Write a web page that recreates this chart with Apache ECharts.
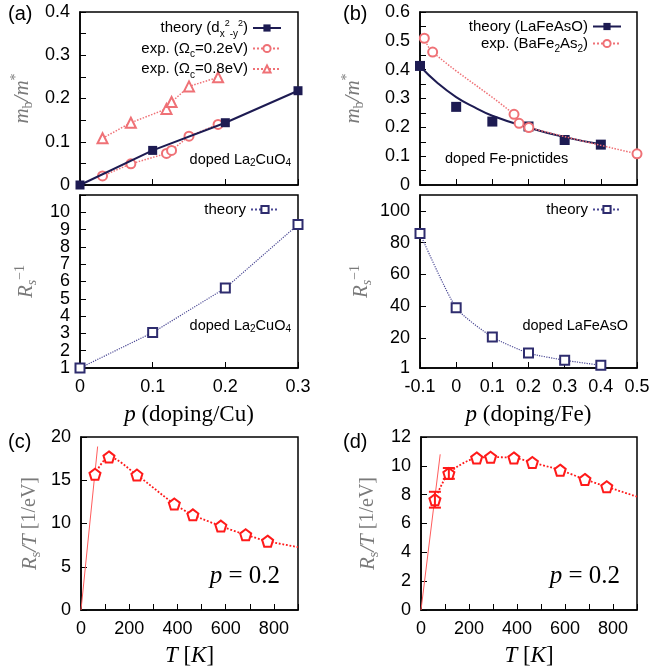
<!DOCTYPE html>
<html>
<head>
<meta charset="utf-8">
<script src="https://cdn.jsdelivr.net/npm/echarts@6/dist/echarts.min.js"></script>
<style>
  html, body { margin: 0; padding: 0; background: #fff; }
  #chart { width: 653px; height: 669px; }
</style>
</head>
<body>
<div id="chart"></div>
<script>
// (a) doped La2CuO4
const pA = [0, 0.1, 0.2, 0.3];
const mTheoryA = [0, 0.08, 0.144, 0.218];
const pExpA = [0.031, 0.070, 0.119, 0.126, 0.150, 0.190];
const mExpA02 = [0.021, 0.049, 0.073, 0.080, 0.113, 0.140];
const mExpA08 = [0.108, 0.144, 0.176, 0.192, 0.228, 0.249];
const rsInvA = [1.0, 3.05, 5.62, 9.29];

// (b) doped Fe-pnictides
const pB = [-0.1, 0, 0.1, 0.2, 0.3, 0.4];
const mTheoryB = [0.413, 0.271, 0.22, 0.203, 0.156, 0.14];
const pFitB = [-0.1, -0.05, 0, 0.05, 0.1, 0.2, 0.3, 0.4];
const mFitB = [0.412, 0.352, 0.305, 0.27, 0.24, 0.199, 0.166, 0.141];
const pExpB = [-0.088, -0.065, 0.16, 0.174, 0.201, 0.5];
const mExpB = [0.509, 0.461, 0.245, 0.214, 0.199, 0.108];
const rsInvB = [85.8, 38.9, 20.5, 10.4, 5.9, 2.7];
const rsTicksB = [1, 20, 40, 60, 80, 100];

// (c), (d) Rs/T vs T at p = 0.2
const tempC = [58, 116, 232, 387, 464, 580, 683, 774];
const rsTC = [15.7, 17.7, 15.6, 12.25, 11.0, 9.7, 8.7, 7.96];
const tailC = [900, 7.27];
const slopeC = [[0, 0], [69, 18.9]];
const tempD = [58, 116, 232, 290, 387, 464, 580, 683, 774];
const rsTD = [7.65, 9.47, 10.55, 10.6, 10.55, 10.23, 9.7, 9.06, 8.55];
const tailD = [900, 7.86];
const slopeD = [[0, 0], [80, 10.8]];
const errD = [[58, 7.1, 8.2], [116, 9.1, 9.85]];

const navy = '#1d1b52';
const navy2 = '#2e2c6e';
const pink = '#ef7176';
const red = '#ff1a1a';
const sans = 'Liberation Sans';
const serif = 'Liberation Serif';

const zip = (xs, ys) => xs.map((x, i) => [x, ys[i]]);

const subRich = {
  n: { fontSize: 15, fontFamily: sans, color: '#000', lineHeight: 18 },
  sb: { fontSize: 10, fontFamily: sans, color: '#000', lineHeight: 18, verticalAlign: 'bottom', padding: [0, 0, -2, 0] },
  sp: { fontSize: 9, fontFamily: sans, color: '#000', lineHeight: 18, verticalAlign: 'top' }
};
const legendText = {
  theoryA: '{n|theory (d}{sb|x}{sp|2}{sb|-y}{sp|2}{n|)}',
  expA02: '{n|exp. (Ω}{sb|c}{n|=0.2eV)}',
  expA08: '{n|exp. (Ω}{sb|c}{n|=0.8eV)}',
  theoryB: '{n|theory (LaFeAsO)}',
  expB: '{n|exp. (BaFe}{sb|2}{n|As}{sb|2}{n|)}',
  rsA: '{n|theory}',
  rsB: '{n|theory}'
};

function legend(names, right, top, extra) {
  return {
    data: names.map(n => (extra && extra[n]) ? Object.assign({ name: n }, extra[n]) : n),
    orient: 'vertical', right: right, top: top, align: 'right',
    itemWidth: 28, itemHeight: 9, itemGap: 2,
    selectedMode: false,
    formatter: n => legendText[n],
    textStyle: { fontFamily: sans, fontSize: 15, color: '#000', rich: subRich }
  };
}

const gray = '#7a7a7a';
const nameRich = {
  i: { fontFamily: serif, fontStyle: 'italic', fontSize: 21, color: gray, lineHeight: 26 },
  r: { fontFamily: serif, fontSize: 20, color: gray, lineHeight: 26 },
  s: { fontFamily: serif, fontSize: 14, color: gray, lineHeight: 26, verticalAlign: 'bottom' },
  si: { fontFamily: serif, fontStyle: 'italic', fontSize: 14, color: gray, lineHeight: 26, verticalAlign: 'bottom' },
  u: { fontFamily: serif, fontSize: 14, color: gray, lineHeight: 26, verticalAlign: 'top' }
};
const xNameRich = {
  i: { fontFamily: serif, fontStyle: 'italic', fontSize: 23, color: '#000' },
  r: { fontFamily: serif, fontSize: 23, color: '#000' }
};

function axisBase(grid, min, max, interval, showLabel) {
  return {
    type: 'value', gridIndex: grid, min: min, max: max, interval: interval,
    axisLine: { show: true, onZero: false, lineStyle: { color: '#000', width: 1.5 } },
    axisTick: { show: true, inside: true, length: 6, lineStyle: { color: '#000', width: 1 } },
    axisLabel: { show: showLabel, color: '#000', fontFamily: sans, fontSize: 18, margin: 10 },
    splitLine: { show: false }
  };
}

const xAxes = [
  axisBase(0, 0, 0.3, 0.1, false),
  Object.assign(axisBase(1, 0, 0.3, 0.1, true), {
    name: '{i|p}{r| (doping/Cu)}', nameLocation: 'middle', nameGap: 35,
    nameTextStyle: { rich: xNameRich }
  }),
  axisBase(2, -0.1, 0.5, 0.1, false),
  Object.assign(axisBase(3, -0.1, 0.5, 0.1, true), {
    name: '{i|p}{r| (doping/Fe)}', nameLocation: 'middle', nameGap: 35,
    nameTextStyle: { rich: xNameRich }
  }),
  Object.assign(axisBase(4, 0, 900, 100, true), {
    name: '{i|T}{r| [}{i|K}{r|]}', nameLocation: 'middle', nameGap: 34,
    nameTextStyle: { rich: xNameRich }
  }),
  Object.assign(axisBase(5, 0, 900, 100, true), {
    name: '{i|T}{r| [}{i|K}{r|]}', nameLocation: 'middle', nameGap: 34,
    nameTextStyle: { rich: xNameRich }
  })
];
xAxes[4].axisLabel.formatter = v => (v % 200 === 0 && v < 900) ? String(v) : '';
xAxes[5].axisLabel.formatter = v => (v % 200 === 0 && v < 900) ? String(v) : '';

const yAxes = [
  Object.assign(axisBase(0, 0, 0.4, 0.1, true), {
    minorTick: { show: true, splitNumber: 2, length: 6, lineStyle: { color: '#000' } },
    name: '{i|m}{s|b}{i|/m}{u|*}', nameLocation: 'middle', nameGap: 45,
    nameTextStyle: { rich: nameRich }
  }),
  Object.assign(axisBase(1, 1, 11, 1, true), {
    position: 'left',
    name: '{i|R}{si|s}{u|−1}', nameLocation: 'middle', nameGap: 41,
    nameTextStyle: { rich: nameRich }
  }),
  Object.assign(axisBase(2, 0, 0.6, 0.1, true), {
    minorTick: { show: true, splitNumber: 2, length: 6, lineStyle: { color: '#000' } },
    name: '{i|m}{s|b}{i|/m}{u|*}', nameLocation: 'middle', nameGap: 54,
    nameTextStyle: { rich: nameRich }
  }),
  Object.assign(axisBase(3, 1, 110, null, true), {
    name: '{i|R}{si|s}{u|−1}', nameLocation: 'middle', nameGap: 46,
    nameTextStyle: { rich: nameRich }
  }),
  Object.assign(axisBase(4, 0, 20, 5, true), {
    name: '{i|R}{s|s}{i|/T}{r| [1/eV]}', nameLocation: 'middle', nameGap: 38,
    nameTextStyle: { rich: nameRich }
  }),
  Object.assign(axisBase(5, 0, 12, 2, true), {
    name: '{i|R}{s|s}{i|/T}{r| [1/eV]}', nameLocation: 'middle', nameGap: 40,
    nameTextStyle: { rich: nameRich }
  })
];
// R_s^-1 labels in (a): even ones on the main axis, odd ones on a label-only twin
yAxes[1].axisLabel.formatter = v => (v % 2 === 0 && v <= 10) ? String(v) : '';
const oddAxis = axisBase(1, 1, 11, 2, true);
oddAxis.position = 'left';
oddAxis.offset = 0;
oddAxis.axisLine.show = false;
oddAxis.axisTick.show = false;
oddAxis.axisLabel.formatter = v => (v <= 9 ? String(v) : '');
yAxes.push(oddAxis);
delete yAxes[3].interval;
yAxes[3].axisTick.customValues = rsTicksB;
yAxes[3].axisLabel.customValues = rsTicksB;

const pentagon = 'path://M0,-10L9.51,-3.09L5.88,8.09L-5.88,8.09L-9.51,-3.09Z';

function rtSeries(name, grid, xs, ys, tail) {
  const data = zip(xs, ys);
  data.push({ value: tail, symbol: 'none' });
  return {
    name: name, type: 'line', xAxisIndex: grid, yAxisIndex: grid,
    data: data, smooth: 0.3, symbol: pentagon, symbolSize: 11,
    itemStyle: { color: '#fff', borderColor: red, borderWidth: 2 },
    lineStyle: { color: red, type: 'dotted', width: 1.8 }, z: 3
  };
}
function slopeSeries(grid, pts) {
  return {
    type: 'line', xAxisIndex: grid, yAxisIndex: grid, data: pts,
    symbol: 'none', lineStyle: { color: '#ff5c5c', width: 1 }, z: 2
  };
}

const option = {
  animation: false,
  backgroundColor: '#fff',
  grid: [
    { left: 80, top: 12, width: 218, height: 173, show: true, borderColor: '#000', borderWidth: 1.5 },
    { left: 80, top: 195, width: 218, height: 173, show: true, borderColor: '#000', borderWidth: 1.5 },
    { left: 420, top: 12, width: 217, height: 173, show: true, borderColor: '#000', borderWidth: 1.5 },
    { left: 420, top: 195, width: 217, height: 173, show: true, borderColor: '#000', borderWidth: 1.5 },
    { left: 81, top: 437, width: 217, height: 173, show: true, borderColor: '#000', borderWidth: 1.5 },
    { left: 421, top: 437, width: 216, height: 173, show: true, borderColor: '#000', borderWidth: 1.5 }
  ],
  xAxis: xAxes,
  yAxis: yAxes,
  legend: [
    legend(['theoryA', 'expA02', 'expA08'], 366, 14),
    legend(['theoryB', 'expB'], 26, 14, { theoryB: { lineStyle: { opacity: 1, width: 2 } } }),
    legend(['rsA'], 368, 197),
    legend(['rsB'], 26, 197)
  ],
  series: [
    {
      name: 'theoryA', type: 'line', xAxisIndex: 0, yAxisIndex: 0,
      data: zip(pA, mTheoryA), symbol: 'rect', symbolSize: 9,
      itemStyle: { color: navy }, lineStyle: { color: navy, width: 2 }, z: 4
    },
    {
      name: 'expA02', type: 'line', xAxisIndex: 0, yAxisIndex: 0,
      data: zip(pExpA, mExpA02), symbol: 'emptyCircle', symbolSize: 9,
      itemStyle: { color: pink, borderWidth: 1.5 }, lineStyle: { color: pink, type: 'dotted', width: 1.5 }
    },
    {
      name: 'expA08', type: 'line', xAxisIndex: 0, yAxisIndex: 0,
      data: zip(pExpA, mExpA08), symbol: 'emptyTriangle', symbolSize: 10,
      itemStyle: { color: pink, borderWidth: 1.5 }, lineStyle: { color: pink, type: 'dotted', width: 1.5 }
    },
    {
      name: 'rsA', type: 'line', xAxisIndex: 1, yAxisIndex: 1,
      data: zip(pA, rsInvA), symbol: 'emptyRect', symbolSize: 9,
      itemStyle: { color: navy2, borderWidth: 1.5 }, lineStyle: { color: '#4a4894', type: 'dotted', width: 1.2 }
    },
    {
      type: 'line', xAxisIndex: 2, yAxisIndex: 2,
      data: zip(pFitB, mFitB), smooth: true, symbol: 'none',
      lineStyle: { color: navy, width: 2 }, z: 3
    },
    {
      name: 'theoryB', type: 'line', xAxisIndex: 2, yAxisIndex: 2,
      data: zip(pB, mTheoryB), symbol: 'rect', symbolSize: 10,
      itemStyle: { color: navy }, lineStyle: { color: navy, width: 2, opacity: 0 }, z: 4
    },
    {
      name: 'expB', type: 'line', xAxisIndex: 2, yAxisIndex: 2,
      data: zip(pExpB, mExpB), smooth: 0.4, symbol: 'emptyCircle', symbolSize: 9,
      itemStyle: { color: pink, borderWidth: 1.5 }, lineStyle: { color: pink, type: 'dotted', width: 1.5 }, z: 5
    },
    {
      name: 'rsB', type: 'line', xAxisIndex: 3, yAxisIndex: 3,
      data: zip(pB, rsInvB), smooth: 0.2, symbol: 'emptyRect', symbolSize: 9,
      itemStyle: { color: navy2, borderWidth: 1.5 }, lineStyle: { color: '#4a4894', type: 'dotted', width: 1.2 }
    },
    slopeSeries(4, slopeC),
    rtSeries('rtC', 4, tempC, rsTC, tailC),
    slopeSeries(5, slopeD),
    rtSeries('rtD', 5, tempD, rsTD, tailD),
    {
      type: 'custom', xAxisIndex: 5, yAxisIndex: 5, data: errD, z: 4,
      renderItem: (params, api) => {
        const lo = api.coord([api.value(0), api.value(1)]);
        const hi = api.coord([api.value(0), api.value(2)]);
        const w = 6;
        const st = { stroke: red, lineWidth: 2 };
        return {
          type: 'group', children: [
            { type: 'line', shape: { x1: lo[0], y1: lo[1], x2: hi[0], y2: hi[1] }, style: st },
            { type: 'line', shape: { x1: lo[0] - w, y1: lo[1], x2: lo[0] + w, y2: lo[1] }, style: st },
            { type: 'line', shape: { x1: hi[0] - w, y1: hi[1], x2: hi[0] + w, y2: hi[1] }, style: st }
          ]
        };
      }
    }
  ],
  graphic: [
    { type: 'text', left: 8, top: 4, style: { text: '(a)', font: '20px "Liberation Sans"', fill: '#000' } },
    { type: 'text', left: 343, top: 4, style: { text: '(b)', font: '20px "Liberation Sans"', fill: '#000' } },
    { type: 'text', left: 8, top: 432, style: { text: '(c)', font: '20px "Liberation Sans"', fill: '#000' } },
    { type: 'text', left: 343, top: 432, style: { text: '(d)', font: '20px "Liberation Sans"', fill: '#000' } },
    {
      type: 'text', right: 362, top: 152,
      style: {
        text: '{n|doped La}{s|2}{n|CuO}{s|4}',
        rich: { n: { fontFamily: sans, fontSize: 14.5, fill: '#000', lineHeight: 18 }, s: { fontFamily: sans, fontSize: 10, fill: '#000', lineHeight: 18, verticalAlign: 'bottom' } }
      }
    },
    {
      type: 'text', right: 362, top: 318,
      style: {
        text: '{n|doped La}{s|2}{n|CuO}{s|4}',
        rich: { n: { fontFamily: sans, fontSize: 14.5, fill: '#000', lineHeight: 18 }, s: { fontFamily: sans, fontSize: 10, fill: '#000', lineHeight: 18, verticalAlign: 'bottom' } }
      }
    },
    { type: 'text', left: 445, top: 151, style: { text: 'doped Fe-pnictides', font: '14.5px "Liberation Sans"', fill: '#000' } },
    { type: 'text', right: 25, top: 318, style: { text: 'doped LaFeAsO', font: '14.5px "Liberation Sans"', fill: '#000' } },
    {
      type: 'text', right: 373, top: 564,
      style: { text: '{i|p}{r| = 0.2}', rich: { i: { fontFamily: serif, fontStyle: 'italic', fontSize: 25, fill: '#000' }, r: { fontFamily: serif, fontSize: 25, fill: '#000' } } }
    },
    {
      type: 'text', right: 33, top: 564,
      style: { text: '{i|p}{r| = 0.2}', rich: { i: { fontFamily: serif, fontStyle: 'italic', fontSize: 25, fill: '#000' }, r: { fontFamily: serif, fontSize: 25, fill: '#000' } } }
    }
  ]
};

const chart = echarts.init(document.getElementById('chart'), null, { renderer: 'canvas' });
chart.setOption(option);
</script>
</body>
</html>
